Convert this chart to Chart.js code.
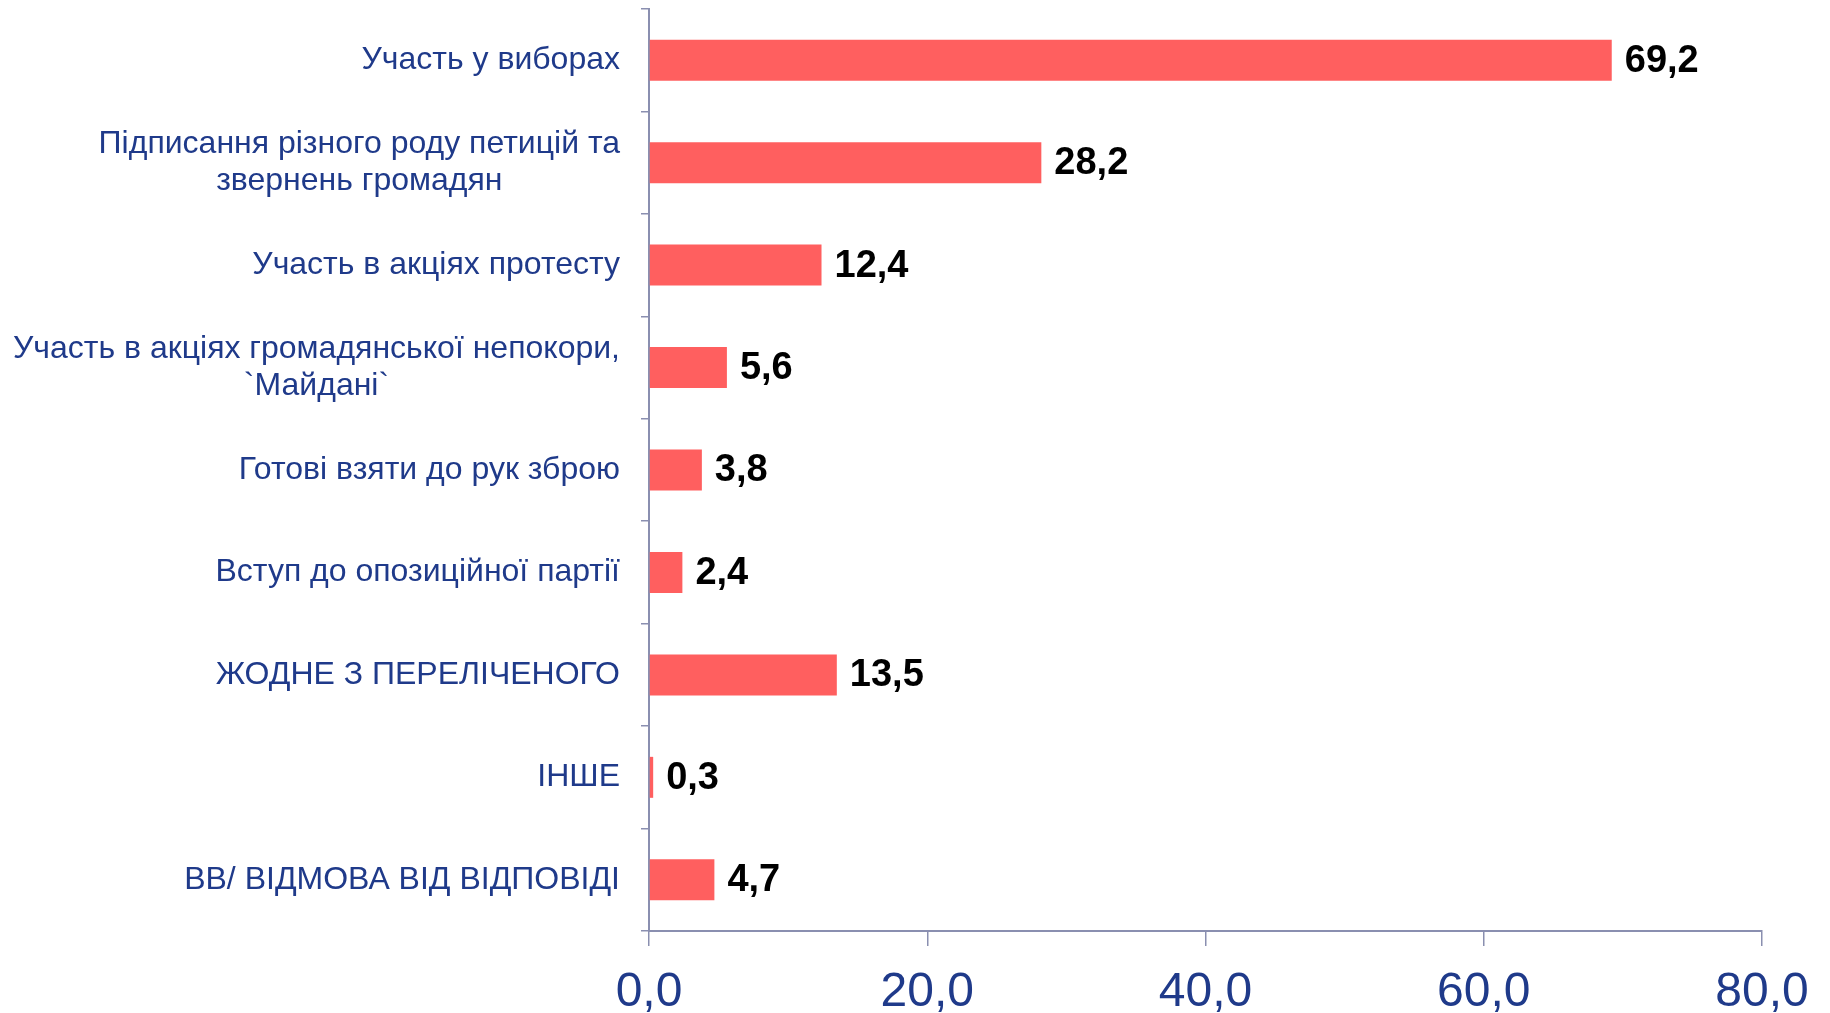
<!DOCTYPE html>
<html>
<head>
<meta charset="utf-8">
<script src="https://cdn.jsdelivr.net/npm/chart.js@4/dist/chart.umd.min.js"></script>
<style>
  body { margin: 0; background: #fff; }
  canvas { display: block; }
</style>
</head>
<body>
<canvas id="pollChart" width="1830" height="1013"></canvas>
<script>
const categories = [
    ['Участь у виборах'],
    ['Підписання різного роду петицій та', 'звернень громадян'],
    ['Участь в акціях протесту'],
    ['Участь в акціях громадянської непокори,', '`Майдані`'],
    ['Готові взяти до рук зброю'],
    ['Вступ до опозиційної партії'],
    ['ЖОДНЕ З ПЕРЕЛІЧЕНОГО'],
    ['ІНШЕ'],
    ['ВВ/ ВІДМОВА ВІД ВІДПОВІДІ']
];
const values = [69.2, 28.2, 12.4, 5.6, 3.8, 2.4, 13.5, 0.3, 4.7];
const xTicks = [0, 20, 40, 60, 80];

const navy = '#1F3A8A';
const axisColor = '#8A8FB0';
const fmt = v => v.toFixed(1).replace('.', ',');

// category labels: block right-aligned to the axis, lines centred within the block
const categoryLabels = {
    id: 'categoryLabels',
    afterDraw(chart) {
        const ctx = chart.ctx;
        const yScale = chart.scales.y;
        const right = chart.chartArea.left - 29;
        const lh = 37;
        ctx.save();
        ctx.font = '32px "Liberation Sans", Arial, sans-serif';
        ctx.fillStyle = navy;
        ctx.textBaseline = 'middle';
        ctx.textAlign = 'center';
        categories.forEach((lines, i) => {
            const y = yScale.getPixelForValue(i);
            const w = Math.max(...lines.map(l => ctx.measureText(l).width));
            const cx = right - w / 2;
            const y0 = y - (lines.length - 1) * lh / 2;
            lines.forEach((l, j) => ctx.fillText(l, cx, y0 + j * lh));
        });
        ctx.restore();
    }
};

const valueLabels = {
    id: 'valueLabels',
    afterDatasetsDraw(chart) {
        const ctx = chart.ctx;
        const meta = chart.getDatasetMeta(0);
        ctx.save();
        ctx.font = 'bold 38px "Liberation Sans", Arial, sans-serif';
        ctx.fillStyle = '#000';
        ctx.textBaseline = 'middle';
        ctx.textAlign = 'left';
        meta.data.forEach((bar, i) => {
            ctx.fillText(fmt(values[i]), bar.x + 13, bar.y + 1);
        });
        ctx.restore();
    }
};

const ctx = document.getElementById('pollChart').getContext('2d');
const pollChart = new Chart(ctx, {
    type: 'bar',
    data: {
        labels: categories,
        datasets: [{
            data: values,
            backgroundColor: '#FF5F5F',
            borderWidth: 0,
            barPercentage: 0.4,
            categoryPercentage: 1.0
        }]
    },
    options: {
        indexAxis: 'y',
        responsive: false,
        animation: false,
        layout: { padding: { top: 9, right: 68, left: 0, bottom: 0 } },
        plugins: {
            legend: { display: false },
            tooltip: { enabled: false }
        },
        scales: {
            x: {
                min: 0,
                max: 80,
                afterBuildTicks: scale => {
                    scale.ticks = xTicks.map(v => ({ value: v }));
                },
                afterFit: scale => { scale.height = 82; },
                border: { color: axisColor, width: 2 },
                grid: {
                    drawOnChartArea: false,
                    tickLength: 15,
                    color: axisColor,
                    lineWidth: 1.5
                },
                ticks: {
                    callback: v => fmt(v),
                    color: navy,
                    padding: 18,
                    maxRotation: 0,
                    font: { family: '"Liberation Sans", Arial, sans-serif', size: 48 }
                }
            },
            y: {
                afterFit: scale => { scale.width = 649; },
                border: { color: axisColor, width: 2 },
                grid: {
                    offset: true,
                    drawOnChartArea: false,
                    tickLength: 8,
                    color: axisColor,
                    lineWidth: 1.5
                },
                ticks: { display: false }
            }
        }
    },
    plugins: [categoryLabels, valueLabels]
});
</script>
</body>
</html>
